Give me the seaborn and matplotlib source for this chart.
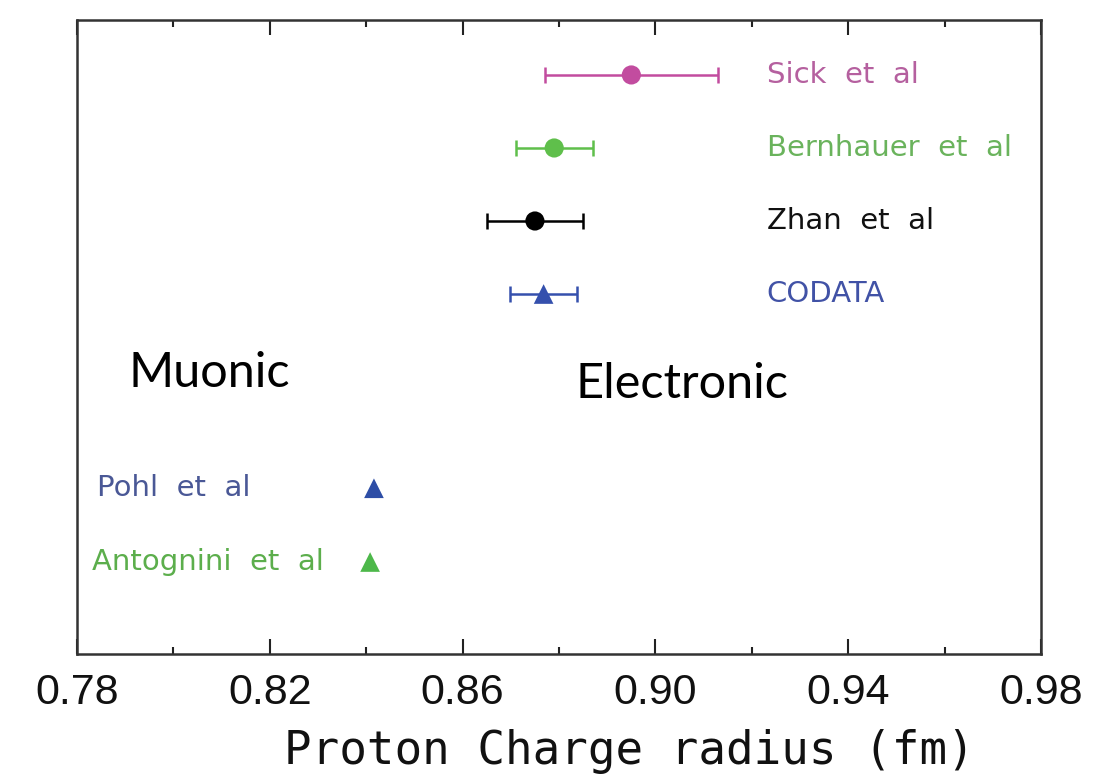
import matplotlib
matplotlib.use("Agg")
import matplotlib.pyplot as plt
import seaborn as sns
import pandas as pd
import numpy as np

# ---- data ----
names = ["Sick  et  al", "Bernhauer  et  al", "Zhan  et  al", "CODATA",
         "Pohl  et  al", "Antognini  et  al"]
radius = [0.895, 0.879, 0.875, 0.8768, 0.8416, 0.8408]
err = [0.018, 0.008, 0.010, 0.007, 0.0, 0.0]
row = [0.0, 1.0, 2.0, 3.0, 5.66, 6.67]
group = ["Electronic", "Electronic", "Electronic", "Electronic", "Muonic", "Muonic"]
marker_kind = ["o", "o", "o", "^", "^", "^"]
point_colors = ["#c24c9f", "#5fbf4b", "#000000", "#3550ad", "#2e4ea6", "#4db84a"]
label_colors = ["#b5609f", "#6ab35c", "#111111", "#4152a6", "#4a5896", "#5cae4c"]
xticks_major = [0.78, 0.82, 0.86, 0.90, 0.94, 0.98]
xticks_minor = [0.80, 0.84, 0.88, 0.92, 0.96]

df = pd.DataFrame({"name": names, "radius": radius, "err": err, "row": row,
                   "group": group, "marker": marker_kind})

sns.set_theme(style="white")
plt.rcParams["font.family"] = ["DejaVu Sans"]

fig = plt.figure(figsize=(11.07, 7.80), dpi=100)
ax = fig.add_axes([0.0696, 0.1615, 0.8708, 0.8129])

# error bars
for i in range(len(df)):
    if df.err[i] > 0:
        ax.errorbar(df.radius[i], df.row[i], xerr=df.err[i], fmt="none",
                    ecolor=point_colors[i], elinewidth=1.8, capsize=5.5,
                    capthick=1.8, zorder=2)

palette = dict(zip(names, point_colors))
markers = dict(zip(names, marker_kind))
sizes = {n: (190 if m == "o" else 200) for n, m in zip(names, marker_kind)}
sns.scatterplot(data=df, x="radius", y="row", hue="name", style="name",
                size="name", sizes=sizes, palette=palette, markers=markers,
                edgecolor="none", legend=False, ax=ax, zorder=3)

# labels
for i in range(len(df)):
    if df.group[i] == "Electronic":
        lx = 0.9231
    else:
        lx = 0.7842 if i == 4 else 0.7831
    ax.text(lx, df.row[i], names[i], color=label_colors[i], fontsize=21,
            ha="left", va="center", family=["DejaVu Sans"])

ax.text(0.7906, 4.27, "Muonic", fontsize=35, family=["Lato", "DejaVu Sans"],
        ha="left", va="baseline", color="black")
ax.text(0.8835, 4.42, "Electronic", fontsize=35, family=["Lato", "DejaVu Sans"],
        ha="left", va="baseline", color="black")

ax.set_xlim(0.78, 0.98)
ax.set_ylim(7.93, -0.753)
ax.set_yticks([])
ax.set_xticks(xticks_major)
ax.set_xticks(xticks_minor, minor=True)
ax.set_xticklabels([f"{v:.2f}" for v in xticks_major],
                   fontsize=31, family=["Liberation Sans"], color="#111111")
ax.tick_params(axis="x", which="major", direction="in", top=True, bottom=True,
               length=11, width=1.5, color="#222222", pad=14)
ax.tick_params(axis="x", which="minor", direction="in", top=True, bottom=True,
               length=5, width=1.5, color="#222222")
ax.set_xlabel("Proton Charge radius (fm)", fontsize=33,
              family=["DejaVu Sans Mono"], color="#111111")
ax.xaxis.set_label_coords(0.573, -0.118, transform=ax.transAxes)
ax.xaxis.label.set_va("top")
ax.set_ylabel("")
for s in ax.spines.values():
    s.set_linewidth(1.8)
    s.set_color("#333333")

fig.savefig("out.png", dpi=100)
